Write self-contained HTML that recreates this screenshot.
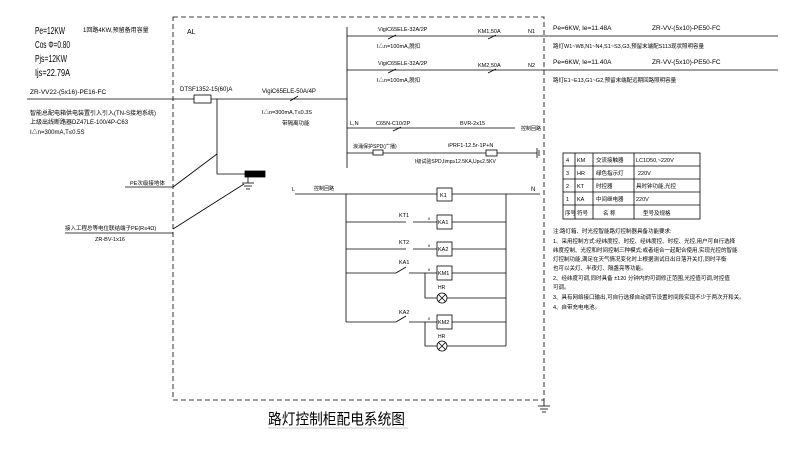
<!DOCTYPE html>
<html><head><meta charset="utf-8"><style>
html,body{margin:0;padding:0;background:#fff;}
svg{display:block;}
text{font-family:"Liberation Sans","Noto Sans CJK SC",sans-serif;fill:#000;}
</style></head><body>
<svg width="800" height="458" viewBox="0 0 800 458" xmlns="http://www.w3.org/2000/svg">
<g stroke="#000" stroke-width="0.8" fill="none">
<path d="M173 17 H544 V400 H173 Z" stroke-dasharray="5,3"/>
<line x1="27" y1="99" x2="347" y2="99"/>
<rect x="194" y="95" width="17" height="8" fill="#fff"/>
<line x1="290" y1="101" x2="298" y2="96"/>
<line x1="347" y1="27" x2="347" y2="168"/>
<line x1="347" y1="36" x2="778" y2="36"/>
<line x1="347" y1="70" x2="778" y2="70"/>
<line x1="347" y1="128" x2="515" y2="128"/>
<line x1="347" y1="153" x2="537" y2="153"/>
<rect x="373" y="150" width="10" height="5" fill="#fff"/>
<rect x="486" y="150" width="11" height="6" fill="#fff"/>
<line x1="537" y1="148" x2="537" y2="158"/><line x1="539" y1="150" x2="539" y2="156"/>
<line x1="388" y1="39" x2="396" y2="35"/><line x1="488" y1="39" x2="496" y2="35"/>
<line x1="388" y1="73" x2="396" y2="69"/><line x1="488" y1="73" x2="496" y2="69"/>
<line x1="393" y1="131" x2="401" y2="127"/>
<polyline points="217,99 217,174 248,174 248,183"/>
<line x1="242" y1="183" x2="254" y2="183"/><line x1="244" y1="186" x2="252" y2="186"/><line x1="246" y1="189" x2="250" y2="189"/>
<line x1="217" y1="154" x2="173" y2="187"/><line x1="125" y1="187" x2="173" y2="187"/>
<line x1="244" y1="184" x2="173" y2="229"/><line x1="65" y1="233" x2="173" y2="233"/>
<rect x="245" y="171" width="20" height="6" fill="#000"/>
<line x1="544" y1="400" x2="544" y2="406"/><line x1="538" y1="406" x2="550" y2="406"/><line x1="540" y1="409" x2="548" y2="409"/><line x1="542" y1="412" x2="546" y2="412"/>
<line x1="295" y1="194" x2="540" y2="194"/>
<rect x="437" y="188" width="15" height="13" fill="#fff"/>
<line x1="346" y1="194" x2="346" y2="322"/>
<line x1="506" y1="194" x2="506" y2="346"/>
<line x1="346" y1="222" x2="406" y2="222"/><line x1="413" y1="222" x2="506" y2="222"/>
<rect x="437" y="215" width="15" height="14" fill="#fff"/>
<line x1="346" y1="249" x2="406" y2="249"/><line x1="413" y1="249" x2="506" y2="249"/>
<rect x="437" y="242" width="15" height="14" fill="#fff"/>
<line x1="346" y1="273" x2="396" y2="273"/><line x1="396" y1="273" x2="406" y2="267"/><line x1="409" y1="273" x2="506" y2="273"/>
<rect x="437" y="266" width="15" height="14" fill="#fff"/>
<polyline points="425,273 425,298 506,298"/>
<circle cx="442" cy="298" r="5" fill="#fff"/>
<line x1="438.5" y1="294.5" x2="445.5" y2="301.5"/><line x1="445.5" y1="294.5" x2="438.5" y2="301.5"/>
<line x1="346" y1="322" x2="396" y2="322"/><line x1="396" y1="322" x2="406" y2="316"/><line x1="409" y1="322" x2="506" y2="322"/>
<rect x="437" y="315" width="15" height="14" fill="#fff"/>
<polyline points="425,322 425,346 506,346"/>
<circle cx="442" cy="346" r="5" fill="#fff"/>
<line x1="438.5" y1="342.5" x2="445.5" y2="349.5"/><line x1="445.5" y1="342.5" x2="438.5" y2="349.5"/>
<rect x="563" y="153" width="137" height="66"/>
<line x1="563" y1="166" x2="700" y2="166"/><line x1="563" y1="179" x2="700" y2="179"/><line x1="563" y1="192" x2="700" y2="192"/><line x1="563" y1="205" x2="700" y2="205"/>
<line x1="575" y1="153" x2="575" y2="219"/><line x1="593" y1="153" x2="593" y2="219"/><line x1="634" y1="153" x2="634" y2="219"/>
<line x1="268" y1="428" x2="408" y2="428" stroke="#bbb"/>
</g>
<g font-size="9">
<text x="35" y="34" font-size="10" textLength="30" lengthAdjust="spacingAndGlyphs">Pe=12KW</text>
<text x="83" y="32" font-size="6">1回路4KW,预留备用容量</text>
<text x="35" y="48" font-size="10" textLength="35" lengthAdjust="spacingAndGlyphs">Cos Φ=0.80</text>
<text x="35" y="62" font-size="10" textLength="32" lengthAdjust="spacingAndGlyphs">Pjs=12KW</text>
<text x="35" y="76" font-size="10" textLength="35" lengthAdjust="spacingAndGlyphs">Ijs=22.79A</text>
<text x="30" y="94" font-size="6.5">ZR-VV22-(5x16)-PE16-FC</text>
<text x="30" y="115" font-size="6">智能总配电箱供电装置引入引入(TN-S接地系统)</text>
<text x="30" y="124" font-size="6">上级出线断路器DZ47LE-100/4P-C63</text>
<text x="30" y="134" font-size="6">I△n=300mA,T≤0.5S</text>
<text x="187" y="34" font-size="7">AL</text>
<text x="180" y="91" font-size="6">DTSF1352-15(60)A</text>
<text x="262" y="93" font-size="6">VigiC65ELE-50A/4P</text>
<text x="262" y="114" font-size="5.5">I△n=300mA,T≤0.3S</text>
<text x="282" y="125" font-size="5.5">带隔离功能</text>
<text x="130" y="185" font-size="5.5">PE次级接地体</text>
<text x="65" y="230" font-size="5.5">接入工程总等电位联结端子PE(R≤4Ω)</text>
<text x="95" y="241" font-size="5.5">ZR-BV-1x16</text>
<text x="378" y="31" font-size="5.5">VigiC65ELE-32A/2P</text>
<text x="377" y="48" font-size="5.5">I△n=100mA,脱扣</text>
<text x="478" y="33" font-size="5.5">KM1,50A</text><text x="528" y="33" font-size="5.5">N1</text>
<text x="378" y="65" font-size="5.5">VigiC65ELE-32A/2P</text>
<text x="377" y="82" font-size="5.5">I△n=100mA,脱扣</text>
<text x="478" y="67" font-size="5.5">KM2,50A</text><text x="528" y="67" font-size="5.5">N2</text>
<text x="350" y="125" font-size="5.5">L,N</text>
<text x="376" y="125" font-size="5.5">C65N-C10/2P</text>
<text x="460" y="125" font-size="5.5">BVR-2x15</text>
<text x="521" y="130" font-size="5">控制回路</text>
<text x="353" y="148" font-size="5">浪涌保护SPD(广播)</text>
<text x="448" y="147" font-size="5.5">iPRF1-12.5r-1P+N</text>
<text x="415" y="163" font-size="5">I级试验SPD,Iimp≥12.5KA,Up≤2.5KV</text>
<text x="292" y="191" font-size="5.5">L</text><text x="314" y="190" font-size="5">控制回路</text>
<text x="531" y="191" font-size="6">N</text>
<text x="440" y="197" font-size="5.5">K1</text>
<text x="399" y="217" font-size="5.5">KT1</text><text x="428" y="220" font-size="4">II</text><text x="438" y="224" font-size="5.5">KA1</text>
<text x="399" y="244" font-size="5.5">KT2</text><text x="428" y="247" font-size="4">II</text><text x="438" y="251" font-size="5.5">KA2</text>
<text x="399" y="264" font-size="5.5">KA1</text><text x="428" y="271" font-size="4">II</text><text x="438" y="275" font-size="5.5">KM1</text>
<text x="438" y="289" font-size="5">HR</text>
<text x="399" y="314" font-size="5.5">KA2</text><text x="428" y="320" font-size="4">II</text><text x="438" y="324" font-size="5.5">KM2</text>
<text x="438" y="338" font-size="5">HR</text>
<text x="553" y="30" font-size="6.5">Pe=6KW, Ie=11.48A</text>
<text x="652" y="30" font-size="6.5">ZR-VV-(5x10)-PE50-FC</text>
<text x="553" y="48" font-size="5.5">路灯W1~W8,N1~N4,S1~S3,G3,预留末端配S113现状照明容量</text>
<text x="553" y="64" font-size="6.5">Pe=6KW, Ie=11.40A</text>
<text x="652" y="64" font-size="6.5">ZR-VV-(5x10)-PE50-FC</text>
<text x="553" y="82" font-size="5.5">路灯E1~E13,G1~G2,预留末端配远期回路照明容量</text>
<g font-size="5.5">
<text x="566" y="162">4</text><text x="577" y="162">KM</text><text x="596" y="162">交流接触器</text><text x="636" y="162">LC1D50,~220V</text>
<text x="566" y="175">3</text><text x="577" y="175">HR</text><text x="596" y="175">绿色指示灯</text><text x="638" y="175">220V</text>
<text x="566" y="188">2</text><text x="577" y="188">KT</text><text x="596" y="188">时控器</text><text x="636" y="188">具时钟功能,光控</text>
<text x="566" y="201">1</text><text x="577" y="201">KA</text><text x="596" y="201">中间继电器</text><text x="636" y="201">220V</text>
<text x="565" y="215">序号</text><text x="577" y="215">符号</text><text x="603" y="215">名 称</text><text x="643" y="215">型号及规格</text>
</g>
<g font-size="5.5">
<text x="553" y="233">注:路灯箱、时光控智能路灯控制器具备功能要求:</text>
<text x="553" y="243">1、采用控制方式:经纬度控、时控、经纬度控、时控、光控,用户可自行选择</text>
<text x="553" y="252">纬度控制、光控和时间控制三种模式;或者组合一起配合使用,实现光控的智能</text>
<text x="553" y="261">灯控制功能,满足在天气情况变化时上根据测试日出日落开关灯,同时平衡</text>
<text x="553" y="270">也可以关灯、半夜灯、隔盏亮等功能。</text>
<text x="553" y="280">2、经纬度可调,同时具备    ±120  分钟内的可调修正范围,光控值可调,时控值</text>
<text x="553" y="289">可调。</text>
<text x="553" y="299">3、具有网络接口输出,可自行选择自动调节设置时间段实现不少于两次开和关。</text>
<text x="553" y="309">4、自带充电电池。</text>
</g>
<text x="268" y="424" font-size="15" textLength="137" lengthAdjust="spacingAndGlyphs">路灯控制柜配电系统图</text>
</g>
</svg>
</body></html>
